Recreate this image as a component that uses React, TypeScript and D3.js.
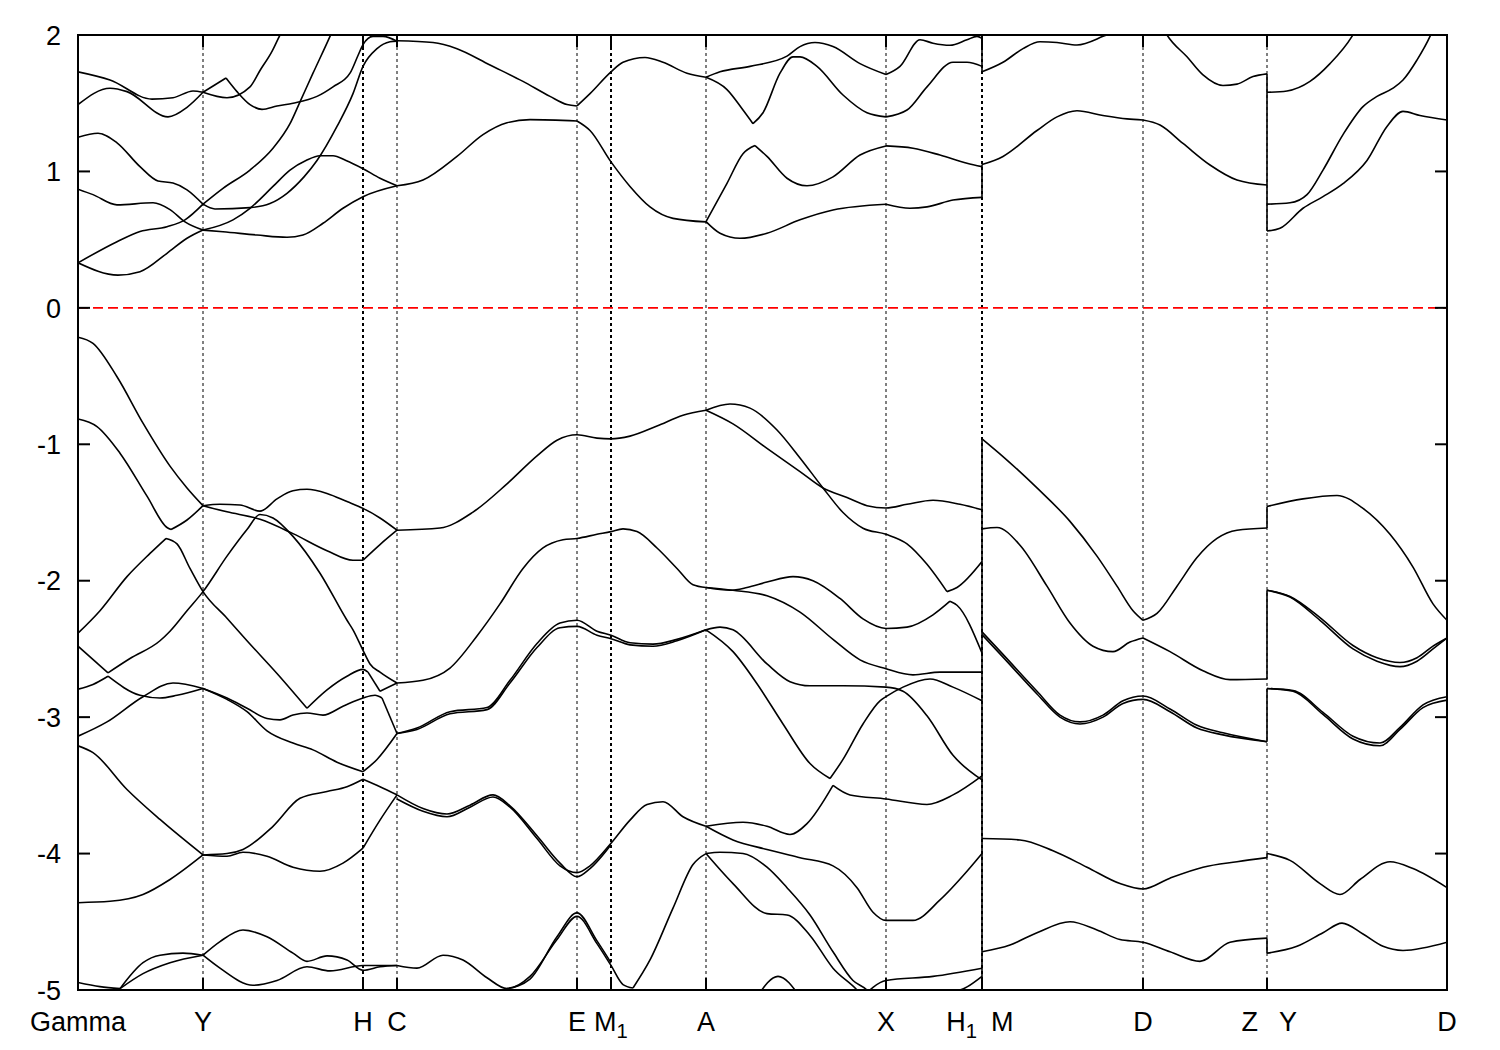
import React from "react";
import * as d3 from "d3";

type P = [number, number];

// high-symmetry points (k positions) and labels
const kTicks: number[] = [0, 1.25, 2.85, 3.19, 4.99, 5.33, 6.28, 8.08, 9.04, 10.65, 11.89, 13.69];
const thickK: number[] = [2.85, 5.33, 9.04];
const eTicks: number[] = [2, 1, 0, -1, -2, -3, -4, -5];

// conduction band pieces [k, E]
const conduction: P[][] = [
  [[0, 1.73], [0.32, 1.67], [0.74, 1.53], [0.95, 1.54], [1.15, 1.59], [1.25, 1.58]],
  [[0, 1.49], [0.32, 1.61], [0.49, 1.585], [0.9, 1.4], [1.09, 1.47], [1.25, 1.58]],
  [[0, 1.25], [0.2, 1.28], [0.39, 1.21], [0.62, 1.035], [0.8, 0.93], [0.95, 0.915], [1.09, 0.865], [1.25, 0.76]],
  [[0, 0.87], [0.15, 0.83], [0.39, 0.755], [0.75, 0.77], [0.92, 0.72], [1.07, 0.63], [1.25, 0.57]],
  [[0, 0.33], [0.39, 0.485], [0.62, 0.56], [0.89, 0.595], [1.07, 0.645], [1.25, 0.76]],
  [[0, 0.33], [0.4, 0.24], [0.62, 0.265], [0.89, 0.4], [1.09, 0.51], [1.25, 0.57]],
  // Y -> H -> C
  [[1.25, 1.58], [1.49, 1.54], [1.72, 1.62], [1.82, 1.74], [1.94, 1.88], [2.02, 2.0], [2.05, 2.04]],
  [[1.25, 1.58], [1.48, 1.685]],
  [[1.48, 1.685], [1.59, 1.585], [1.72, 1.49], [1.84, 1.455], [1.99, 1.48], [2.15, 1.5], [2.39, 1.55], [2.55, 1.62], [2.72, 1.72], [2.8, 1.85], [2.85, 1.93], [2.95, 1.99], [3.05, 1.99], [3.19, 1.955]],
  [[1.25, 0.76], [1.45, 0.876], [1.72, 1.01], [1.95, 1.17], [2.12, 1.35], [2.22, 1.51], [2.35, 1.72], [2.52, 1.99], [2.55, 2.04]],
  [[1.25, 0.76], [1.37, 0.725], [1.72, 0.735], [1.92, 0.765], [2.09, 0.84], [2.26, 0.96], [2.39, 1.08], [2.59, 1.33], [2.75, 1.57], [2.85, 1.77], [2.99, 1.9], [3.12, 1.95], [3.19, 1.955]],
  [[1.25, 0.57], [1.45, 0.558], [1.79, 0.534], [2.09, 0.517], [2.25, 0.534], [2.45, 0.62], [2.65, 0.73], [2.85, 0.815], [3.19, 0.895]],
  [[1.25, 0.57], [1.55, 0.645], [1.72, 0.73], [1.95, 0.89], [2.12, 1.01], [2.28, 1.08], [2.42, 1.115], [2.55, 1.115], [2.68, 1.08], [2.85, 1.02], [3.02, 0.95], [3.19, 0.895]],
  // C -> E -> M1 -> A
  [[3.19, 1.958], [3.55, 1.945], [3.79, 1.9], [4.12, 1.78], [4.45, 1.66], [4.72, 1.55], [4.89, 1.49], [4.99, 1.48]],
  [[4.99, 1.48], [5.12, 1.57], [5.33, 1.73], [5.45, 1.8], [5.67, 1.835], [5.85, 1.8], [6.09, 1.72], [6.28, 1.69]],
  [[3.19, 0.895], [3.45, 0.937], [3.79, 1.11], [4.05, 1.27], [4.29, 1.357], [4.52, 1.38], [4.99, 1.37]],
  [[4.99, 1.37], [5.12, 1.3], [5.33, 1.07], [5.52, 0.89], [5.72, 0.74], [5.95, 0.656], [6.28, 0.63]],
  // A -> X
  [[6.28, 1.69], [6.42, 1.73], [6.72, 1.77], [7.09, 1.845], [7.22, 1.915], [7.37, 1.945], [7.55, 1.915], [7.82, 1.79], [8.08, 1.71]],
  [[6.28, 1.69], [6.49, 1.6], [6.65, 1.45], [6.75, 1.35]],
  [[6.75, 1.35], [6.85, 1.43], [7.02, 1.72], [7.15, 1.84], [7.22, 1.84], [7.39, 1.77], [7.65, 1.56], [7.89, 1.43], [8.08, 1.4]],
  [[6.28, 0.632], [6.49, 0.913], [6.65, 1.13], [6.77, 1.19]],
  [[6.77, 1.19], [6.89, 1.11], [7.09, 0.95], [7.29, 0.895], [7.55, 0.96], [7.82, 1.12], [8.08, 1.187]],
  [[6.28, 0.632], [6.42, 0.547], [6.62, 0.51], [6.89, 0.547], [7.22, 0.645], [7.55, 0.717], [8.08, 0.759]],
  // X -> H1
  [[8.08, 1.71], [8.22, 1.77], [8.42, 1.965], [8.55, 1.94], [8.72, 1.925], [8.89, 1.965], [8.99, 1.99], [9.04, 1.975]],
  [[8.08, 1.4], [8.29, 1.45], [8.49, 1.62], [8.75, 1.8], [8.89, 1.8], [9.04, 1.77]],
  [[8.08, 1.187], [8.35, 1.17], [8.62, 1.12], [8.89, 1.06], [9.04, 1.035]],
  [[8.08, 0.759], [8.32, 0.73], [8.49, 0.74], [8.75, 0.79], [9.04, 0.81]],
  // M -> D -> Z
  [[9.04, 1.73], [9.25, 1.8], [9.45, 1.9], [9.62, 1.95], [9.79, 1.945], [9.99, 1.927], [10.25, 1.99], [10.4, 2.04]],
  [[9.04, 1.05], [9.25, 1.11], [9.59, 1.3], [9.79, 1.4], [9.99, 1.445], [10.25, 1.41], [10.49, 1.385], [10.65, 1.377]],
  [[10.65, 1.377], [10.82, 1.34], [11.05, 1.205], [11.32, 1.047], [11.59, 0.937], [11.89, 0.9]],
  [[10.85, 2.05], [10.89, 2.0], [11.09, 1.84], [11.25, 1.707], [11.45, 1.63], [11.59, 1.64], [11.75, 1.695], [11.89, 1.715]],
  // Y -> D
  [[11.89, 1.58], [12.09, 1.59], [12.32, 1.66], [12.52, 1.79], [12.74, 1.99], [12.78, 2.04]],
  [[11.89, 0.76], [12.12, 0.77], [12.29, 0.83], [12.45, 1.01], [12.65, 1.27], [12.85, 1.475], [12.99, 1.55], [13.15, 1.61], [13.25, 1.67], [13.39, 1.817], [13.52, 1.99], [13.55, 2.04]],
  [[11.89, 0.563], [12.02, 0.583], [12.25, 0.73], [12.45, 0.815], [12.65, 0.91], [12.89, 1.08], [13.09, 1.33], [13.25, 1.44], [13.42, 1.41], [13.69, 1.377]],
];

// valence band pieces [k, E]
const valence: P[][] = [
  // Gamma -> Y
  [[0, -0.215], [0.15, -0.26], [0.39, -0.505], [0.65, -0.845], [0.92, -1.16], [1.09, -1.32], [1.25, -1.45]],
  [[0, -0.815], [0.19, -0.87], [0.42, -1.065], [0.69, -1.38], [0.89, -1.61], [0.93, -1.625]],
  [[0.93, -1.625], [1.09, -1.555], [1.25, -1.45]],
  [[0, -2.385], [0.22, -2.22], [0.49, -1.97], [0.72, -1.8], [0.88, -1.69]],
  [[0.88, -1.69], [0.99, -1.73], [1.12, -1.91], [1.25, -2.08], [1.49, -2.275], [1.69, -2.44], [1.99, -2.68], [2.29, -2.935]],
  [[2.29, -2.935], [2.49, -2.8], [2.69, -2.7], [2.85, -2.65], [2.9, -2.67]],
  [[2.9, -2.67], [3.02, -2.81]],
  [[3.02, -2.81], [3.19, -2.75]],
  [[0, -2.48], [0.3, -2.675]],
  [[0.3, -2.675], [0.52, -2.57], [0.82, -2.44], [0.92, -2.37], [1.09, -2.22], [1.25, -2.08], [1.49, -1.82], [1.69, -1.625], [1.82, -1.515], [1.95, -1.54], [2.15, -1.675], [2.42, -1.945], [2.69, -2.29], [2.75, -2.36], [2.85, -2.51], [2.92, -2.61], [3.02, -2.67], [3.19, -2.75]],
  [[0, -2.795], [0.15, -2.76], [0.3, -2.7]],
  [[0.3, -2.7], [0.62, -2.84], [0.82, -2.86], [0.99, -2.84], [1.25, -2.79]],
  [[0, -3.14], [0.29, -3.035], [0.65, -2.85], [0.95, -2.75], [1.25, -2.79]],
  [[0, -3.21], [0.15, -3.26], [0.49, -3.53], [0.82, -3.75], [1.25, -4.01]],
  [[0, -4.36], [0.32, -4.35], [0.65, -4.3], [0.92, -4.19], [1.25, -4.01]],
  [[0, -4.945], [0.22, -4.975], [0.42, -4.99]],
  [[0.42, -4.99], [0.65, -4.8], [0.82, -4.745], [1.05, -4.73], [1.25, -4.745]],
  [[0.42, -4.99], [0.65, -4.88], [0.92, -4.8], [1.25, -4.745]],
  // Y -> H -> C
  [[1.25, -1.45], [1.42, -1.44], [1.62, -1.445], [1.82, -1.49], [1.99, -1.4], [2.15, -1.34], [2.29, -1.33], [2.49, -1.36], [2.69, -1.42], [2.85, -1.47], [3.02, -1.54], [3.19, -1.63]],
  [[1.25, -1.45], [1.49, -1.495], [1.82, -1.55], [2.15, -1.655], [2.49, -1.78], [2.75, -1.85], [2.85, -1.85]],
  [[2.85, -1.85], [3.02, -1.735], [3.19, -1.63]],
  [[1.25, -2.79], [1.49, -2.86], [1.69, -2.935], [1.89, -3.01], [2.02, -3.02], [2.15, -2.985], [2.29, -2.97], [2.45, -2.985], [2.65, -2.92], [2.85, -2.86], [2.97, -2.84], [3.04, -2.86]],
  [[3.04, -2.86], [3.19, -3.12]],
  [[1.25, -2.79], [1.49, -2.87], [1.69, -2.96], [1.89, -3.1], [2.15, -3.19], [2.35, -3.24], [2.59, -3.33], [2.85, -3.4]],
  [[2.85, -3.4], [2.99, -3.31], [3.19, -3.12]],
  [[1.25, -4.01], [1.49, -4.02], [1.65, -3.99], [1.89, -4.02], [2.15, -4.1], [2.42, -4.13], [2.65, -4.07], [2.85, -3.96]],
  [[2.85, -3.96], [3.02, -3.755], [3.19, -3.57]],
  [[1.25, -4.01], [1.49, -4.0], [1.65, -3.97], [1.95, -3.8], [2.22, -3.595], [2.49, -3.545], [2.69, -3.51], [2.85, -3.455]],
  [[2.85, -3.455], [3.02, -3.51], [3.19, -3.57]],
  [[1.25, -4.745], [1.42, -4.645], [1.65, -4.56], [1.89, -4.61], [2.15, -4.73], [2.29, -4.79], [2.49, -4.75], [2.69, -4.78], [2.85, -4.855], [3.02, -4.83], [3.19, -4.82]],
  [[1.25, -4.745], [1.42, -4.84], [1.75, -4.965], [1.99, -4.93], [2.29, -4.83], [2.52, -4.86], [2.85, -4.82], [3.19, -4.82]],
  // C -> E -> M1 -> A
  [[3.19, -1.63], [3.62, -1.614], [3.95, -1.497], [4.29, -1.29], [4.59, -1.085], [4.79, -0.97], [4.99, -0.93], [5.19, -0.955], [5.33, -0.96], [5.52, -0.94], [5.79, -0.866], [6.05, -0.787], [6.28, -0.75]],
  [[3.19, -2.75], [3.45, -2.73], [3.72, -2.64], [3.99, -2.405], [4.22, -2.17], [4.45, -1.91], [4.65, -1.76], [4.85, -1.7], [4.99, -1.69], [5.19, -1.66], [5.33, -1.64], [5.45, -1.62], [5.59, -1.64], [5.79, -1.76], [5.99, -1.91], [6.15, -2.03], [6.28, -2.05]],
  [[3.19, -3.12], [3.39, -3.08], [3.72, -2.96], [4.09, -2.93], [4.32, -2.73], [4.59, -2.46], [4.82, -2.31], [4.99, -2.29], [5.19, -2.37], [5.33, -2.4], [5.52, -2.455], [5.75, -2.465], [5.99, -2.43], [6.28, -2.36]],
  [[3.19, -3.12], [3.39, -3.09], [3.72, -2.975], [4.09, -2.945], [4.32, -2.75], [4.59, -2.49], [4.82, -2.345], [4.99, -2.335], [5.19, -2.4], [5.33, -2.425], [5.52, -2.47], [5.75, -2.48], [5.99, -2.44], [6.28, -2.36]],
  [[3.19, -3.6], [3.45, -3.69], [3.69, -3.73], [3.92, -3.66], [4.15, -3.585], [4.32, -3.66], [4.59, -3.89], [4.82, -4.09], [4.99, -4.14], [5.12, -4.09], [5.33, -3.925], [5.52, -3.755], [5.69, -3.64], [5.85, -3.62], [6.05, -3.73], [6.28, -3.8]],
  [[3.19, -3.57], [3.45, -3.67], [3.69, -3.71], [3.92, -3.645], [4.15, -3.57], [4.32, -3.65], [4.59, -3.87], [4.82, -4.07], [4.99, -4.17], [5.12, -4.11], [5.33, -3.935]],
  [[3.19, -4.82], [3.39, -4.84], [3.65, -4.745], [3.85, -4.78], [4.09, -4.91], [4.29, -4.99], [4.52, -4.9], [4.79, -4.63], [4.99, -4.46], [5.19, -4.66], [5.33, -4.82], [5.45, -4.96], [5.55, -4.985]],
  [[4.29, -4.99], [4.52, -4.92], [4.79, -4.61], [4.99, -4.435], [5.19, -4.64], [5.33, -4.8]],
  [[5.55, -4.985], [5.72, -4.78], [5.95, -4.4], [6.15, -4.08], [6.28, -4.0]],
  // A -> X -> H1
  [[6.28, -0.75], [6.52, -0.705], [6.72, -0.735], [6.99, -0.895], [7.22, -1.1], [7.45, -1.32], [7.65, -1.5], [7.85, -1.615], [8.08, -1.66], [8.29, -1.73], [8.49, -1.88], [8.69, -2.08]],
  [[8.69, -2.08], [8.79, -2.05], [9.04, -1.86]],
  [[6.28, -0.75], [6.55, -0.85], [6.89, -1.03], [7.22, -1.2], [7.45, -1.32], [7.69, -1.39], [7.89, -1.45], [8.08, -1.467], [8.29, -1.44], [8.55, -1.41], [8.82, -1.44], [9.04, -1.48]],
  [[6.28, -2.05], [6.52, -2.07], [6.69, -2.05], [6.89, -2.01], [7.15, -1.97], [7.35, -2.0], [7.62, -2.13], [7.85, -2.28], [8.08, -2.35], [8.29, -2.34], [8.55, -2.25], [8.72, -2.15]],
  [[8.72, -2.15], [8.79, -2.18], [9.04, -2.53]],
  [[6.28, -2.05], [6.55, -2.07], [6.89, -2.11], [7.22, -2.23], [7.55, -2.43], [7.82, -2.58], [8.08, -2.645], [8.35, -2.69], [8.62, -2.67], [9.04, -2.67]],
  [[6.28, -2.36], [6.42, -2.34], [6.55, -2.36], [6.89, -2.61], [7.12, -2.74], [7.32, -2.77], [7.65, -2.77], [8.08, -2.78], [8.25, -2.81], [8.49, -2.99], [8.75, -3.28], [9.04, -3.46]],
  [[6.28, -2.36], [6.55, -2.52], [6.79, -2.755], [7.05, -3.05], [7.32, -3.34], [7.52, -3.45]],
  [[7.52, -3.45], [7.65, -3.31], [7.85, -3.05], [8.02, -2.88], [8.08, -2.85], [8.25, -2.78], [8.52, -2.72], [8.75, -2.78], [9.04, -2.88]],
  [[6.28, -3.8], [6.65, -3.77], [6.89, -3.8], [7.12, -3.86], [7.29, -3.78], [7.55, -3.5]],
  [[7.55, -3.5], [7.72, -3.57], [8.08, -3.6], [8.49, -3.64], [8.75, -3.57], [9.04, -3.43]],
  [[6.28, -3.8], [6.55, -3.9], [6.89, -3.97], [7.22, -4.03], [7.55, -4.09], [7.79, -4.25], [7.95, -4.43], [8.08, -4.49], [8.35, -4.49], [8.62, -4.34], [8.89, -4.13], [9.04, -4.0]],
  [[6.28, -4.0], [6.42, -3.99], [6.65, -4.0], [6.89, -4.1], [7.09, -4.25], [7.32, -4.45], [7.55, -4.72], [7.75, -4.93], [7.89, -5.0], [7.95, -5.05]],
  [[6.28, -4.0], [6.55, -4.22], [6.89, -4.44], [7.09, -4.45], [7.32, -4.6], [7.55, -4.84], [7.79, -5.0], [7.85, -5.05]],
  [[7.85, -5.05], [7.95, -4.98], [8.08, -4.93], [8.55, -4.9], [9.04, -4.84]],
  [[6.79, -5.05], [7.0, -4.9], [7.22, -5.05]],
  [[8.1, -5.02], [8.5, -5.0], [8.75, -5.01], [9.04, -4.9]],
  // M -> D -> Z
  [[9.04, -0.96], [9.25, -1.09], [9.59, -1.32], [9.92, -1.565], [10.19, -1.82], [10.39, -2.04], [10.55, -2.22], [10.65, -2.29]],
  [[10.65, -2.29], [10.79, -2.24], [10.99, -2.04], [11.19, -1.83], [11.39, -1.69], [11.59, -1.63], [11.89, -1.614]],
  [[9.04, -1.62], [9.19, -1.61], [9.42, -1.74], [9.69, -2.04], [9.92, -2.31], [10.15, -2.48], [10.35, -2.52], [10.52, -2.45], [10.65, -2.42]],
  [[10.65, -2.42], [10.92, -2.52], [11.25, -2.66], [11.52, -2.725], [11.89, -2.72]],
  [[9.04, -2.395], [9.25, -2.56], [9.59, -2.83], [9.82, -3.0], [10.02, -3.05], [10.25, -3.0], [10.45, -2.9], [10.65, -2.87], [10.92, -2.96], [11.19, -3.08], [11.45, -3.13], [11.89, -3.18]],
  [[9.04, -2.375], [9.25, -2.54], [9.59, -2.81], [9.82, -2.985], [10.02, -3.035], [10.25, -2.985], [10.45, -2.88], [10.65, -2.845], [10.92, -2.94], [11.19, -3.06], [11.45, -3.115], [11.89, -3.18]],
  [[9.04, -3.89], [9.42, -3.9], [9.75, -3.98], [10.09, -4.1], [10.42, -4.22], [10.65, -4.26], [10.92, -4.18], [11.25, -4.1], [11.59, -4.06], [11.89, -4.03]],
  [[9.04, -4.72], [9.32, -4.67], [9.59, -4.58], [9.92, -4.5], [10.19, -4.56], [10.42, -4.63], [10.65, -4.65], [10.92, -4.72], [11.22, -4.79], [11.52, -4.65], [11.89, -4.62]],
  // Y -> D
  [[11.89, -1.456], [12.25, -1.4], [12.59, -1.375], [12.85, -1.47], [13.12, -1.66], [13.35, -1.9], [13.55, -2.17], [13.69, -2.29]],
  [[11.89, -2.07], [12.12, -2.12], [12.42, -2.29], [12.75, -2.5], [12.99, -2.59], [13.22, -2.63], [13.39, -2.59], [13.55, -2.5], [13.69, -2.42]],
  [[11.89, -2.07], [12.12, -2.115], [12.42, -2.27], [12.75, -2.475], [12.99, -2.565], [13.22, -2.6], [13.39, -2.565], [13.55, -2.48], [13.69, -2.42]],
  [[11.89, -2.79], [12.15, -2.81], [12.45, -2.98], [12.75, -3.16], [13.02, -3.21], [13.22, -3.09], [13.45, -2.93], [13.69, -2.875]],
  [[11.89, -2.79], [12.15, -2.805], [12.45, -2.965], [12.75, -3.14], [13.02, -3.19], [13.22, -3.075], [13.45, -2.91], [13.69, -2.85]],
  [[11.89, -4.0], [12.12, -4.05], [12.42, -4.22], [12.62, -4.3], [12.82, -4.19], [13.12, -4.06], [13.35, -4.11], [13.69, -4.25]],
  [[11.89, -4.73], [12.19, -4.68], [12.45, -4.58], [12.64, -4.51], [12.85, -4.59], [13.05, -4.68], [13.25, -4.71], [13.69, -4.65]],
];

// vertical jumps at discontinuities [k, E1, E2]
const jumps: [number, number, number][] = [
  [9.04, 0.81, 1.05], [9.04, 1.73, 2.0], [9.04, -5.0, -0.96],
  [11.89, 0.563, 1.715], [11.89, -1.614, -1.456], [11.89, -2.72, -2.07],
  [11.89, -3.18, -2.79], [11.89, -4.03, -4.0], [11.89, -4.73, -4.62],
];

const L = 78, R = 1447, T = 35, B = 990;
const FONT = "'Liberation Sans', Arial, Helvetica, sans-serif";

export default function App() {
  const x = d3.scaleLinear().domain([0, 13.69]).range([L, R]);
  const y = d3.scaleLinear().domain([-5, 2]).range([B, T]);
  const line = d3.line<P>().x((d) => x(d[0])).y((d) => y(d[1])).curve(d3.curveMonotoneX);
  const fs = 27;
  const lbY = 1031;

  const sub = (main: string, s: string) => (
    <>
      {main}
      <tspan fontSize={fs * 0.75} dy={7}>{s}</tspan>
    </>
  );

  return (
    <svg width={1500} height={1050} style={{ position: "absolute", left: 0, top: 0, background: "#fff" }}
      fontFamily={FONT}>
      <defs>
        <clipPath id="plotclip">
          <rect x={L} y={T} width={R - L} height={B - T} />
        </clipPath>
      </defs>
      <rect x={0} y={0} width={1500} height={1050} fill="#fff" />
      {/* vertical dotted lines */}
      {kTicks.slice(1, -1).map((k, i) => (
        <line key={"v" + i} x1={x(k)} x2={x(k)} y1={T} y2={B} stroke="#000"
          strokeWidth={thickK.includes(k) ? 2 : 1} strokeDasharray="3,3" />
      ))}
      {/* Fermi level */}
      <line x1={L} x2={R} y1={y(0)} y2={y(0)} stroke="#ff0000" strokeWidth={1.6} strokeDasharray="10,5" />
      <g clipPath="url(#plotclip)" fill="none" stroke="#000" strokeWidth={1.6} strokeLinejoin="round">
        {conduction.map((b, i) => <path key={"c" + i} d={line(b) || ""} />)}
        {valence.map((b, i) => <path key={"vb" + i} d={line(b) || ""} />)}
        {jumps.map((j, i) => (
          <line key={"j" + i} x1={x(j[0])} x2={x(j[0])} y1={y(j[1])} y2={y(j[2])} />
        ))}
      </g>
      {/* frame */}
      <rect x={L} y={T} width={R - L} height={B - T} fill="none" stroke="#000" strokeWidth={2} />
      {/* y ticks */}
      {eTicks.map((e) => (
        <g key={"yt" + e}>
          <line x1={L} x2={L + 12} y1={y(e)} y2={y(e)} stroke="#000" strokeWidth={2} />
          <line x1={R - 12} x2={R} y1={y(e)} y2={y(e)} stroke="#000" strokeWidth={2} />
          <text x={61} y={y(e)} dy="0.36em" textAnchor="end" fontSize={fs} fill="#000">{e}</text>
        </g>
      ))}
      {/* x ticks */}
      {kTicks.slice(1, -1).map((k, i) => (
        <g key={"xt" + i}>
          <line x1={x(k)} x2={x(k)} y1={B} y2={B - 12} stroke="#000" strokeWidth={2} />
          <line x1={x(k)} x2={x(k)} y1={T} y2={T + 12} stroke="#000" strokeWidth={2} />
        </g>
      ))}
      {/* x labels */}
      <g fontSize={fs} fill="#000">
        <text x={x(0)} y={lbY} textAnchor="middle">Gamma</text>
        <text x={x(1.25)} y={lbY} textAnchor="middle">Y</text>
        <text x={x(2.85)} y={lbY} textAnchor="middle">H</text>
        <text x={x(3.19)} y={lbY} textAnchor="middle">C</text>
        <text x={x(4.99)} y={lbY} textAnchor="middle">E</text>
        <text x={x(5.33)} y={lbY} textAnchor="middle">{sub("M", "1")}</text>
        <text x={x(6.28)} y={lbY} textAnchor="middle">A</text>
        <text x={x(8.08)} y={lbY} textAnchor="middle">X</text>
        <text x={x(9.04) - 5} y={lbY} textAnchor="end">{sub("H", "1")}</text>
        <text x={x(9.04) + 9} y={lbY} textAnchor="start">M</text>
        <text x={x(10.65)} y={lbY} textAnchor="middle">D</text>
        <text x={x(11.89) - 9} y={lbY} textAnchor="end">Z</text>
        <text x={x(11.89) + 12} y={lbY} textAnchor="start">Y</text>
        <text x={x(13.69)} y={lbY} textAnchor="middle">D</text>
      </g>
    </svg>
  );
}
